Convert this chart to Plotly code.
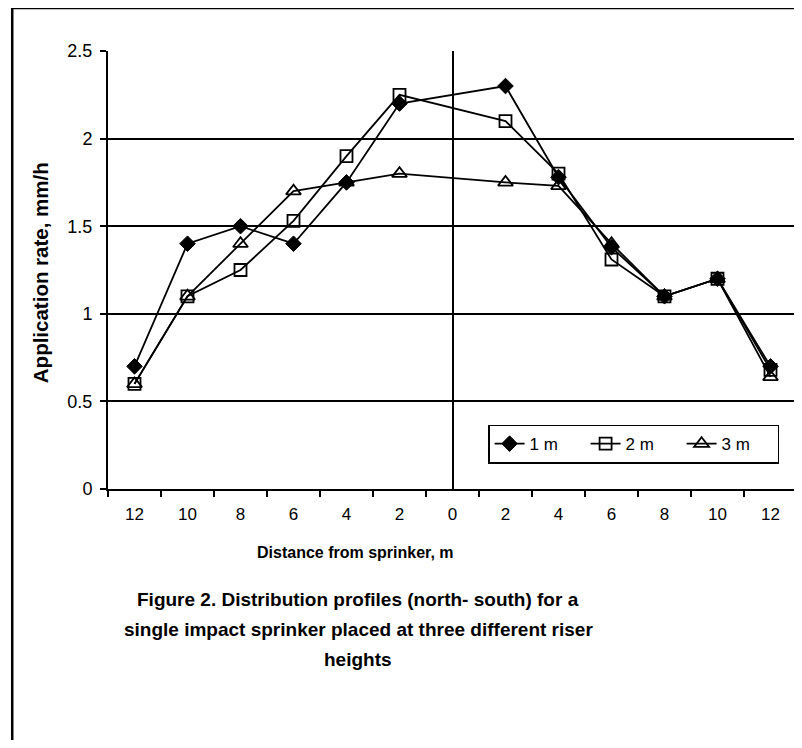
import plotly.graph_objects as go

# Distance from sprinkler (north negative, south positive), m
distance = [-12, -10, -8, -6, -4, -2, 0, 2, 4, 6, 8, 10, 12]
tick_labels = ["12", "10", "8", "6", "4", "2", "0", "2", "4", "6", "8", "10", "12"]

# Application rate, mm/h (no measurement at the sprinkler itself)
rate_1m = [0.70, 1.40, 1.50, 1.40, 1.75, 2.20, None, 2.30, 1.78, 1.38, 1.10, 1.20, 0.70]
rate_2m = [0.60, 1.10, 1.25, 1.53, 1.90, 2.25, None, 2.10, 1.80, 1.31, 1.10, 1.20, 0.68]
rate_3m = [0.60, 1.10, 1.40, 1.70, 1.75, 1.80, None, 1.75, 1.73, 1.40, 1.10, 1.20, 0.64]

y_ticks = [0, 0.5, 1, 1.5, 2, 2.5]
y_tick_text = ["0", "0.5", "1", "1.5", "2", "2.5"]
minor_ticks = [-13, -11, -9, -7, -5, -3, -1, 1, 3, 5, 7, 9, 11, 13]

FONT = "Liberation Sans, Arial, sans-serif"

fig = go.Figure()
fig.add_trace(go.Scatter(
    x=distance, y=rate_1m, name="1 m", mode="lines+markers", connectgaps=True,
    line=dict(color="black", width=1.8),
    marker=dict(symbol="diamond", size=12, color="black", line=dict(color="black", width=1)),
))
fig.add_trace(go.Scatter(
    x=distance, y=rate_2m, name="2 m", mode="lines+markers", connectgaps=True,
    line=dict(color="black", width=1.8),
    marker=dict(symbol="square-open", size=12, color="black", line=dict(color="black", width=1.8)),
))
fig.add_trace(go.Scatter(
    x=distance, y=rate_3m, name="3 m", mode="lines+markers", connectgaps=True,
    line=dict(color="black", width=1.8),
    marker=dict(symbol="triangle-up-open", size=13, color="black", line=dict(color="black", width=1.8)),
))

fig.update_layout(
    width=794, height=732,
    margin=dict(l=100, r=5, t=43, b=251),
    paper_bgcolor="white", plot_bgcolor="white",
    font=dict(family=FONT, color="black", size=17),
    showlegend=True,
    legend=dict(
        orientation="h", x=0.974, xanchor="right", y=0.058, yanchor="bottom",
        bordercolor="black", borderwidth=1.5, bgcolor="white",
        font=dict(size=17, family=FONT), itemwidth=30,
        entrywidth=51, entrywidthmode="pixels",
    ),
    xaxis=dict(
        range=[-13, 13], tickvals=distance, ticktext=tick_labels,
        ticks="", showgrid=False, showline=True, linecolor="black", linewidth=2,
        zeroline=True, zerolinecolor="black", zerolinewidth=2,
        ticklabelstandoff=9, tickfont=dict(size=17),
        minor=dict(tickvals=minor_ticks, ticks="outside", ticklen=6,
                   tickcolor="black", tickwidth=1.5, showgrid=False),
        fixedrange=True,
    ),
    yaxis=dict(
        range=[0, 2.5], tickvals=y_ticks, ticktext=y_tick_text,
        ticks="outside", ticklen=6, tickcolor="black", tickwidth=1.5,
        showgrid=True, gridcolor="black", gridwidth=2,
        showline=True, linecolor="black", linewidth=2,
        zeroline=False, ticklabelstandoff=4, tickfont=dict(size=18),
        fixedrange=True,
    ),
    shapes=[
        # outer frame of the figure (extends past the bottom/right edges)
        dict(type="rect", xref="paper", yref="paper",
             x0=-0.139, x1=1.05, y0=-0.7, y1=1.098,
             line=dict(color="black", width=2.5), layer="below"),
        # light right border of the plot area
        dict(type="line", xref="paper", yref="paper", x0=1, x1=1, y0=0, y1=1,
             line=dict(color="#444", width=1, dash="dot")),
    ],
    annotations=[
        dict(text="<b>Application rate, mm/h</b>", xref="paper", yref="paper",
             x=-0.0987, y=0.495, textangle=-90, showarrow=False,
             xanchor="center", yanchor="middle", font=dict(size=20.5, family=FONT)),
        dict(text="<b>Distance from sprinker, m</b>", xref="paper", yref="paper",
             x=0.3585, y=-0.146, showarrow=False, xanchor="center", yanchor="middle",
             font=dict(size=16, family=FONT)),
        dict(text="<b>Figure 2. Distribution profiles (north- south) for a</b>",
             xref="paper", yref="paper", x=0.363, y=(489 - 599) / 438,
             showarrow=False, xanchor="center", yanchor="middle",
             font=dict(size=19, family=FONT)),
        dict(text="<b>single impact sprinker placed at three different riser</b>",
             xref="paper", yref="paper", x=0.363, y=(489 - 629) / 438,
             showarrow=False, xanchor="center", yanchor="middle",
             font=dict(size=19, family=FONT)),
        dict(text="<b>heights</b>",
             xref="paper", yref="paper", x=0.363, y=(489 - 659) / 438,
             showarrow=False, xanchor="center", yanchor="middle",
             font=dict(size=19, family=FONT)),
    ],
)

fig.write_html("out.html")
